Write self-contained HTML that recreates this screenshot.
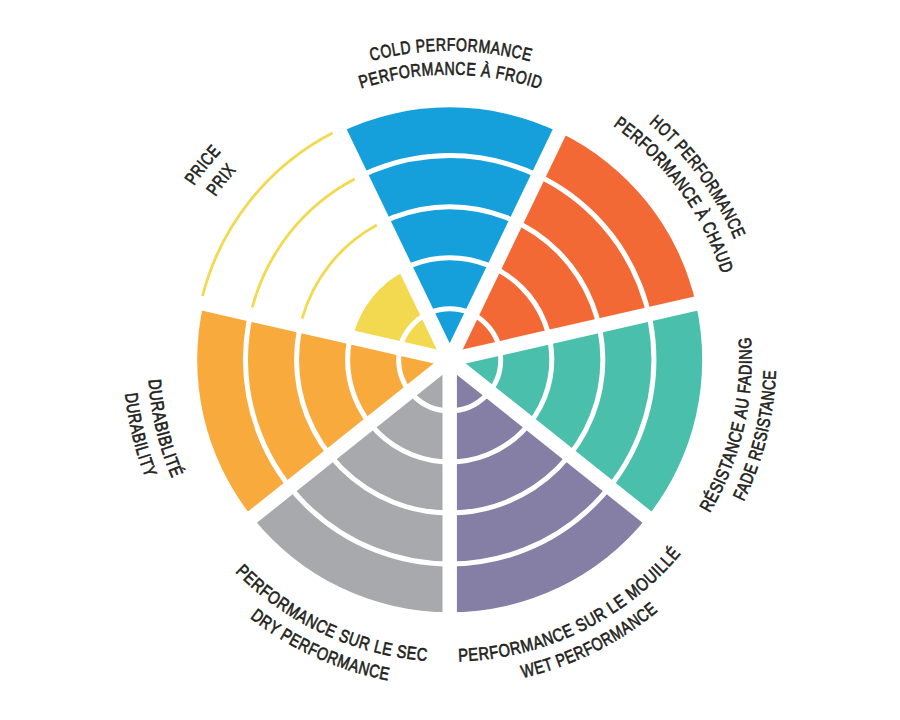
<!DOCTYPE html>
<html><head><meta charset="utf-8"><style>
html,body{margin:0;padding:0;background:#fff;width:900px;height:720px;overflow:hidden}
svg{display:block}
text{font-family:"Liberation Sans",sans-serif;font-size:18.0px;fill:#231f20;stroke:#231f20;stroke-width:0.65px;letter-spacing:0.7px}
</style></head><body>
<svg width="900" height="720" viewBox="0 0 900 720">
<defs><path id="p_cold1" d="M141.99 331.62A309.00 309.00 0 0 1 757.63 334.12"/><path id="p_cold2" d="M165.58 333.88A285.30 285.30 0 0 1 734.00 335.99"/><path id="p_hot1" d="M288.86 95.96A309.00 309.00 0 0 1 653.91 591.71"/><path id="p_hot2" d="M301.69 115.90A285.30 285.30 0 0 1 637.82 574.29"/><path id="p_price1" d="M237.82 584.72A309.00 309.00 0 0 1 619.31 101.51"/><path id="p_price2" d="M254.23 567.61A285.30 285.30 0 0 1 606.12 121.20"/><path id="p_fade1" d="M407.18 658.69A301.90 301.90 0 0 0 543.47 72.83"/><path id="p_fade2" d="M399.80 682.36A326.40 326.40 0 0 0 554.85 50.80"/><path id="p_wet1" d="M190.59 514.73A301.90 301.90 0 0 0 731.78 252.22"/><path id="p_wet2" d="M170.97 529.64A326.40 326.40 0 0 0 753.69 240.94"/><path id="p_dry1" d="M165.62 257.62A301.90 301.90 0 0 0 711.73 509.75"/><path id="p_dry2" d="M141.64 251.93A326.40 326.40 0 0 0 734.35 519.53"/><path id="p_dur1" d="M353.80 73.54A301.90 301.90 0 0 0 494.43 658.37"/><path id="p_dur2" d="M345.41 50.51A326.40 326.40 0 0 0 498.70 682.50"/></defs>
<path d="M449.70 359.80L340.14 132.31A252.50 252.50 0 0 1 559.26 132.31Z" fill="#15a0dc"/>
<path d="M449.70 359.80L559.26 132.31A252.50 252.50 0 0 1 695.87 303.61Z" fill="#f26935"/>
<path d="M449.70 359.80L695.87 303.61A252.50 252.50 0 0 1 647.11 517.23Z" fill="#49bfac"/>
<path d="M449.70 359.80L647.11 517.23A252.50 252.50 0 0 1 449.70 612.30Z" fill="#857ea5"/>
<path d="M449.70 359.80L449.70 612.30A252.50 252.50 0 0 1 252.29 517.23Z" fill="#a7a9ac"/>
<path d="M449.70 359.80L252.29 517.23A252.50 252.50 0 0 1 203.53 303.61Z" fill="#f9aa3c"/>
<path d="M449.70 359.80L352.61 337.64A99.59 99.59 0 0 1 406.49 270.07Z" fill="#f3d94f"/>
<circle cx="449.70" cy="359.80" r="51.02" fill="none" stroke="#fff" stroke-width="5.0"/>
<circle cx="449.70" cy="359.80" r="102.09" fill="none" stroke="#fff" stroke-width="5.0"/>
<circle cx="449.70" cy="359.80" r="153.16" fill="none" stroke="#fff" stroke-width="5.0"/>
<circle cx="449.70" cy="359.80" r="204.23" fill="none" stroke="#fff" stroke-width="5.0"/>
<line x1="449.70" y1="359.80" x2="319.53" y2="89.51" stroke="#fff" stroke-width="14.4"/>
<line x1="449.70" y1="359.80" x2="579.87" y2="89.51" stroke="#fff" stroke-width="14.4"/>
<line x1="449.70" y1="359.80" x2="742.18" y2="293.04" stroke="#fff" stroke-width="14.4"/>
<line x1="449.70" y1="359.80" x2="684.25" y2="546.85" stroke="#fff" stroke-width="14.4"/>
<line x1="449.70" y1="359.80" x2="449.70" y2="659.80" stroke="#fff" stroke-width="14.4"/>
<line x1="449.70" y1="359.80" x2="215.15" y2="546.85" stroke="#fff" stroke-width="14.4"/>
<line x1="449.70" y1="359.80" x2="157.22" y2="293.04" stroke="#fff" stroke-width="14.4"/>
<path d="M302.15 318.74A153.16 153.16 0 0 1 376.83 225.08" fill="none" stroke="#f3d94f" stroke-width="2.8"/>
<path d="M252.32 307.36A204.23 204.23 0 0 1 354.66 179.03" fill="none" stroke="#f3d94f" stroke-width="2.8"/>
<path d="M202.50 295.99A255.30 255.30 0 0 1 332.49 133.00" fill="none" stroke="#f3d94f" stroke-width="2.8"/>
<text><textPath href="#p_cold1" startOffset="50%" text-anchor="middle" textLength="161.21" lengthAdjust="spacingAndGlyphs">COLD PERFORMANCE</textPath></text>
<text><textPath href="#p_cold2" startOffset="50%" text-anchor="middle" textLength="182.51" lengthAdjust="spacingAndGlyphs">PERFORMANCE À FROID</textPath></text>
<text><textPath href="#p_hot1" startOffset="50%" text-anchor="middle" textLength="146.12" lengthAdjust="spacingAndGlyphs">HOT PERFORMANCE</textPath></text>
<text><textPath href="#p_hot2" startOffset="50%" text-anchor="middle" textLength="187.50" lengthAdjust="spacingAndGlyphs">PERFORMANCE À CHAUD</textPath></text>
<text><textPath href="#p_price1" startOffset="50%" text-anchor="middle" textLength="44.20" lengthAdjust="spacingAndGlyphs">PRICE</textPath></text>
<text><textPath href="#p_price2" startOffset="50%" text-anchor="middle" textLength="34.59" lengthAdjust="spacingAndGlyphs">PRIX</textPath></text>
<text><textPath href="#p_fade1" startOffset="50%" text-anchor="middle" textLength="184.09" lengthAdjust="spacingAndGlyphs">RÉSISTANCE AU FADING</textPath></text>
<text><textPath href="#p_fade2" startOffset="50%" text-anchor="middle" textLength="136.41" lengthAdjust="spacingAndGlyphs">FADE RESISTANCE</textPath></text>
<text><textPath href="#p_wet1" startOffset="50%" text-anchor="middle" textLength="255.23" lengthAdjust="spacingAndGlyphs">PERFORMANCE SUR LE MOUILLÉ</textPath></text>
<text><textPath href="#p_wet2" startOffset="50%" text-anchor="middle" textLength="153.03" lengthAdjust="spacingAndGlyphs">WET PERFORMANCE</textPath></text>
<text><textPath href="#p_dry1" startOffset="50%" text-anchor="middle" textLength="216.36" lengthAdjust="spacingAndGlyphs">PERFORMANCE SUR LE SEC</textPath></text>
<text><textPath href="#p_dry2" startOffset="50%" text-anchor="middle" textLength="153.88" lengthAdjust="spacingAndGlyphs">DRY PERFORMANCE</textPath></text>
<text><textPath href="#p_dur1" startOffset="50%" text-anchor="middle" textLength="102.60" lengthAdjust="spacingAndGlyphs">DURABIBLITÉ</textPath></text>
<text><textPath href="#p_dur2" startOffset="50%" text-anchor="middle" textLength="87.56" lengthAdjust="spacingAndGlyphs">DURABILITY</textPath></text>
</svg></body></html>
